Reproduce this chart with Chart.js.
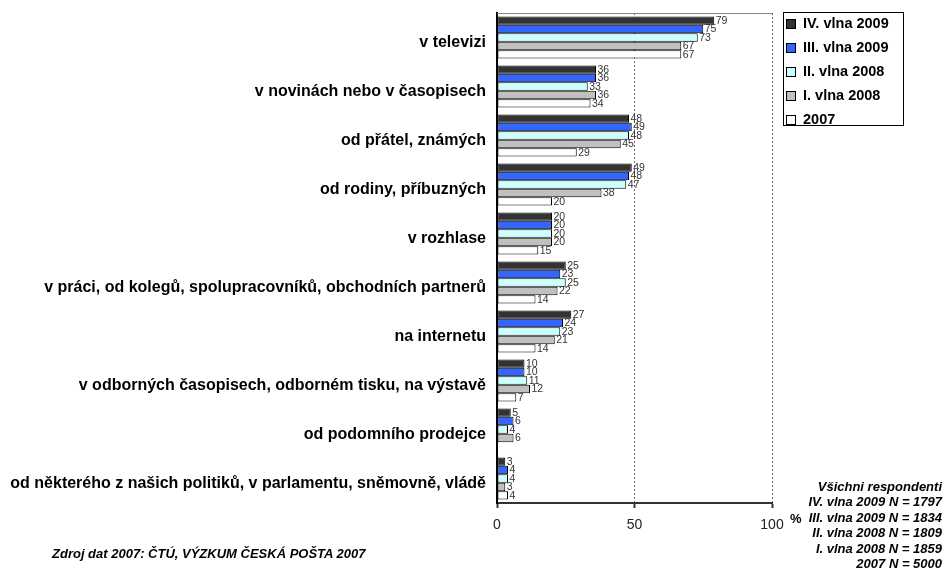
<!DOCTYPE html>
<html>
<head>
<meta charset="utf-8">
<script src="https://cdn.jsdelivr.net/npm/chart.js@4.4.0/dist/chart.umd.min.js"></script>
<style>
  html, body { margin: 0; padding: 0; background: #fff; }
  #wrap { position: relative; width: 944px; height: 572px; overflow: hidden; font-family: "Liberation Sans", Arial, sans-serif; }
  #c { position: absolute; left: 0; top: 0; }
  #legend { position: absolute; left: 783px; top: 12px; width: 121px; height: 114px; border: 1px solid #000; box-sizing: border-box; background: #fff; }
  .li { position: absolute; left: 0; height: 24px; line-height: 24px; font-weight: bold; font-size: 14.5px; color: #000; white-space: nowrap; }
  .li .sw { position: absolute; left: 2px; top: 8px; width: 8px; height: 8px; border: 1px solid #000; box-sizing: content-box; }
  .li .tx { position: absolute; left: 19px; top: 0; }
  #nnote { position: absolute; right: 2px; top: 479px; text-align: right; font-weight: bold; font-style: italic; font-size: 13px; line-height: 15.4px; color: #000; white-space: nowrap; }
  #src { position: absolute; left: 52px; top: 545px; font-weight: bold; font-style: italic; font-size: 13px; line-height: 18px; color: #000; white-space: nowrap; }
  #pct { position: absolute; left: 790px; top: 511px; font-weight: bold; font-size: 13px; line-height: 16px; color: #000; }
</style>
</head>
<body>
<div id="wrap">
  <canvas id="c" width="944" height="572"></canvas>
  <div id="legend"></div>
  <div id="pct">%</div>
  <div id="nnote"></div>
  <div id="src"></div>
</div>
<script>
const categories = [
  "v televizi",
  "v novinách nebo v časopisech",
  "od přátel, známých",
  "od rodiny, příbuzných",
  "v rozhlase",
  "v práci, od kolegů, spolupracovníků, obchodních partnerů",
  "na internetu",
  "v odborných časopisech, odborném tisku, na výstavě",
  "od podomního prodejce",
  "od některého z našich politiků, v parlamentu, sněmovně, vládě"
];
const seriesNames = ["IV. vlna 2009", "III. vlna 2009", "II. vlna 2008", "I. vlna 2008", "2007"];
const seriesColors = ["#333333", "#3366ff", "#ccffff", "#c0c0c0", "#ffffff"];
const wave4_2009 = [79, 36, 48, 49, 20, 25, 27, 10, 5, 3];
const wave3_2009 = [75, 36, 49, 48, 20, 23, 24, 10, 6, 4];
const wave2_2008 = [73, 33, 48, 47, 20, 25, 23, 11, 4, 4];
const wave1_2008 = [67, 36, 45, 38, 20, 22, 21, 12, 6, 3];
const year2007   = [67, 34, 29, 20, 15, 14, 14, 7, null, 4];
const xTicks = [0, 50, 100];
const sampleNotes = [
  "Všichni respondenti",
  "IV. vlna 2009 N = 1797",
  "III. vlna 2009 N = 1834",
  "II. vlna 2008 N = 1809",
  "I. vlna 2008 N = 1859",
  "2007 N = 5000"
];
const sourceNote = "Zdroj dat 2007: ČTÚ, VÝZKUM ČESKÁ POŠTA 2007";

const seriesValues = [wave4_2009, wave3_2009, wave2_2008, wave1_2008, year2007];

// HTML legend & notes
const leg = document.getElementById('legend');
seriesNames.forEach((n, i) => {
  const d = document.createElement('div');
  d.className = 'li';
  d.style.top = (-2 + 24 * i) + 'px';
  const sw = document.createElement('span'); sw.className = 'sw'; sw.style.background = seriesColors[i];
  const tx = document.createElement('span'); tx.className = 'tx'; tx.textContent = n;
  d.appendChild(sw); d.appendChild(tx); leg.appendChild(d);
});
document.getElementById('nnote').innerHTML = sampleNotes.map(s => '<div>' + s + '</div>').join('');
document.getElementById('src').textContent = sourceNote;

const valueLabels = {
  id: 'valueLabels',
  afterDatasetsDraw(chart) {
    const ctx = chart.ctx;
    ctx.save();
    ctx.font = '10.5px "Liberation Sans", Arial, sans-serif';
    ctx.fillStyle = '#333';
    ctx.textAlign = 'left';
    ctx.textBaseline = 'middle';
    chart.data.datasets.forEach((ds, di) => {
      const meta = chart.getDatasetMeta(di);
      meta.data.forEach((el, i) => {
        const v = ds.data[i];
        if (v === null || v === undefined) return;
        ctx.fillText(String(v), el.x + 1.5, el.y + 0.5);
      });
    });
    ctx.restore();
  }
};
const topBorder = {
  id: 'topBorder',
  beforeDatasetsDraw(chart) {
    const {ctx, chartArea} = chart;
    ctx.save();
    ctx.strokeStyle = '#888';
    ctx.lineWidth = 1;
    ctx.beginPath();
    ctx.moveTo(chartArea.left, chartArea.top + 0.5);
    ctx.lineTo(chartArea.right, chartArea.top + 0.5);
    ctx.stroke();
    ctx.restore();
  }
};

new Chart(document.getElementById('c'), {
  type: 'bar',
  data: {
    labels: categories,
    datasets: seriesNames.map((n, i) => ({
      label: n,
      data: seriesValues[i],
      backgroundColor: seriesColors[i],
      borderColor: '#000',
      borderWidth: 1,
      borderSkipped: false,
      categoryPercentage: 0.86,
      barPercentage: 1.0
    }))
  },
  options: {
    indexAxis: 'y',
    responsive: false,
    animation: false,
    maintainAspectRatio: false,
    layout: { padding: { top: 13, right: 172, bottom: 0, left: 0 } },
    plugins: { legend: { display: false }, tooltip: { enabled: false } },
    scales: {
      x: {
        min: 0, max: 100,
        afterBuildTicks(scale) { scale.ticks = xTicks.map(v => ({ value: v })); },
        afterFit(scale) { scale.height = 69; scale.paddingLeft = 0; scale.paddingRight = 0; },
        ticks: {
          color: '#222',
          font: { family: '"Liberation Sans", Arial, sans-serif', size: 14 },
          padding: 9,
          maxRotation: 0
        },
        grid: {
          color: ctx => (ctx.tick && ctx.tick.value > 0) ? '#666' : 'rgba(0,0,0,0)',
          lineWidth: 1,
          drawTicks: true,
          tickLength: 5,
          tickColor: '#333',
          tickWidth: 2,
          tickBorderDash: []
        },
        border: { display: true, color: '#333', width: 2, dash: [2, 2] }
      },
      y: {
        afterFit(scale) { scale.width = 497; scale.paddingTop = 0; scale.paddingBottom = 0; },
        ticks: {
          color: '#000',
          font: { family: '"Liberation Sans", Arial, sans-serif', size: 16, weight: 'bold' },
          padding: 11,
          labelOffset: 5,
          autoSkip: false
        },
        grid: { display: false, drawTicks: false },
        border: { display: true, color: '#000', width: 2 }
      }
    }
  },
  plugins: [valueLabels, topBorder]
});
</script>
</body>
</html>
